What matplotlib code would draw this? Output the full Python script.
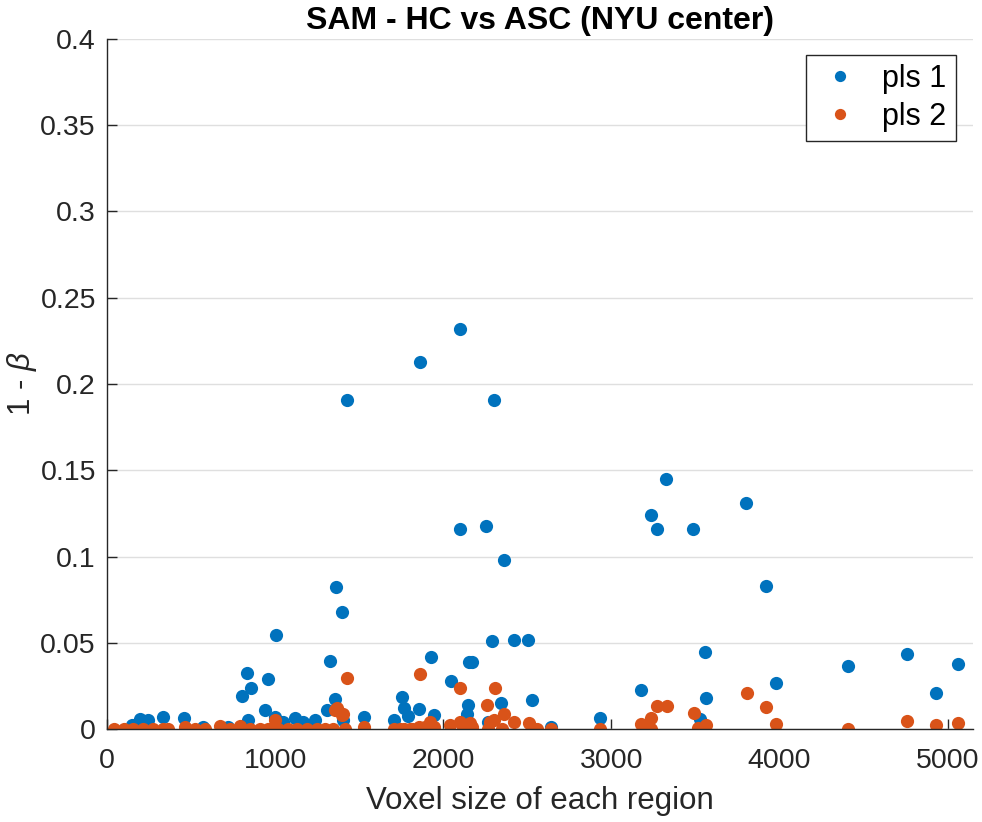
import numpy as np
import matplotlib
matplotlib.use("Agg")
import matplotlib.pyplot as plt

# voxel size / power values
x_pls1 = [147, 196, 246, 331, 460, 573, 722, 801, 833, 840, 859, 940, 958, 1000,
          1004, 1049, 1118, 1168, 1237, 1307, 1327, 1356, 1363, 1399, 1403, 1429,
          1526, 1704, 1757, 1769, 1793, 1856, 1863, 1927, 1942, 2048, 2101, 2101,
          2140, 2150, 2151, 2170, 2256, 2268, 2292, 2304, 2344, 2363, 2423, 2506,
          2527, 2642, 2930, 3177, 3238, 3274, 3327, 3488, 3530, 3554, 3564, 3798,
          3917, 3980, 4409, 4758, 4930, 5061]
y_pls1 = [0.0023, 0.0058, 0.0052, 0.0068, 0.0062, 0.0013, 0.0013, 0.019, 0.0326,
          0.0052, 0.0236, 0.011, 0.0288, 0.0071, 0.0546, 0.0042, 0.0062, 0.0042,
          0.0052, 0.011, 0.0396, 0.0174, 0.0822, 0.0676, 0.0052, 0.191, 0.0068,
          0.0052, 0.0184, 0.012, 0.0075, 0.0116, 0.2125, 0.0415, 0.0081, 0.0278,
          0.2316, 0.116, 0.009, 0.0139, 0.0386, 0.0386, 0.1175, 0.0042, 0.051,
          0.1905, 0.0149, 0.098, 0.0515, 0.0515, 0.0168, 0.0013, 0.0066, 0.0226,
          0.124, 0.116, 0.145, 0.116, 0.006, 0.0448, 0.0178, 0.131, 0.083, 0.0264,
          0.0367, 0.0434, 0.0207, 0.0378]

x_pls2 = [42, 101, 157, 216, 276, 335, 365, 464, 524, 583, 673, 732, 792, 851, 911,
          960, 1000, 1019, 1079, 1128, 1188, 1248, 1297, 1347, 1356, 1367, 1396,
          1403, 1416, 1427, 1526, 1704, 1744, 1764, 1804, 1813, 1853, 1863, 1893,
          1913, 1923, 1942, 2042, 2100, 2101, 2120, 2151, 2160, 2171, 2259, 2268,
          2280, 2299, 2305, 2349, 2364, 2418, 2507, 2556, 2642, 2930, 3177, 3236,
          3236, 3272, 3331, 3490, 3516, 3560, 3808, 3917, 3980, 4409, 4758, 4930,
          5061]
y_pls2 = [0, 0, 0, 0, 0, 0, 0, 0.001, 0, 0, 0.0017, 0, 0.0017, 0, 0, 0, 0.0052, 0,
          0, 0, 0, 0, 0, 0, 0.011, 0.012, 0.0081, 0.0087, 0, 0.0297, 0.001, 0, 0,
          0, 0, 0, 0.001, 0.0317, 0.001, 0, 0.0042, 0.0013, 0.0023, 0.0042, 0.0236,
          0, 0, 0.0033, 0.0013, 0.0139, 0, 0.0042, 0.0052, 0.0236, 0, 0.0087,
          0.0042, 0.0033, 0, 0, 0, 0.0027, 0.0062, 0, 0.0135, 0.0135, 0.0095,
          0.0004, 0.0023, 0.0207, 0.0125, 0.0027, 0, 0.0045, 0.0025, 0.0037]

plt.rcParams.update({
    'font.family': ['Liberation Sans', 'DejaVu Sans'],
    'mathtext.fontset': 'custom',
    'mathtext.rm': 'Liberation Sans',
    'mathtext.it': 'Liberation Sans:italic',
    'font.size': 20,
})

dark = '#262626'
fig = plt.figure(figsize=(9.82, 8.22), dpi=100)
ax = fig.add_axes([0.109, 0.1131, 0.882, 0.8395])

ax.plot(x_pls1, y_pls1, 'o', color='#0072BD', markersize=9.5, markeredgewidth=0,
        label='pls 1', zorder=3)
ax.plot(x_pls2, y_pls2, 'o', color='#D95319', markersize=9.5, markeredgewidth=0,
        label='pls 2', zorder=4)

ax.set_xlim(0, 5152)
ax.set_ylim(0, 0.4)
ax.set_xticks([0, 1000, 2000, 3000, 4000, 5000])
ax.set_yticks(np.arange(0, 0.401, 0.05))
ax.set_yticklabels(['0', '0.05', '0.1', '0.15', '0.2', '0.25', '0.3', '0.35', '0.4'])
ax.grid(True, axis='y', color='#dfdfdf', lw=1.0)
ax.set_axisbelow(True)

for s in ('top', 'right'):
    ax.spines[s].set_visible(False)
for s in ('left', 'bottom'):
    ax.spines[s].set_color(dark)
    ax.spines[s].set_linewidth(1.0)
    ax.spines[s].set_zorder(5)
ax.tick_params(direction='in', length=7, width=1.0, colors=dark, labelsize=20.5)
ax.tick_params(axis='x', pad=14)
ax.tick_params(axis='y', pad=8)

ax.set_xlabel('Voxel size of each region', fontsize=22.5, color=dark, labelpad=8)
ax.set_ylabel(r'1 - $\beta$', fontsize=22.5, color=dark, va='center')
ax.yaxis.set_label_coords(-0.098, 0.5)
ax.set_title('SAM - HC vs ASC (NYU center)', fontsize=23, fontweight='bold', pad=7)

leg = ax.legend(loc='upper right', bbox_to_anchor=(0.98, 0.977), borderaxespad=0,
                fontsize=22, markerscale=0.85, fancybox=False, framealpha=1.0,
                borderpad=0.3, handletextpad=0.6, labelspacing=0.25,
                handlelength=1.6)
leg.get_frame().set_edgecolor('#262626')
leg.get_frame().set_linewidth(1.0)

fig.savefig('out.png', dpi=100)
